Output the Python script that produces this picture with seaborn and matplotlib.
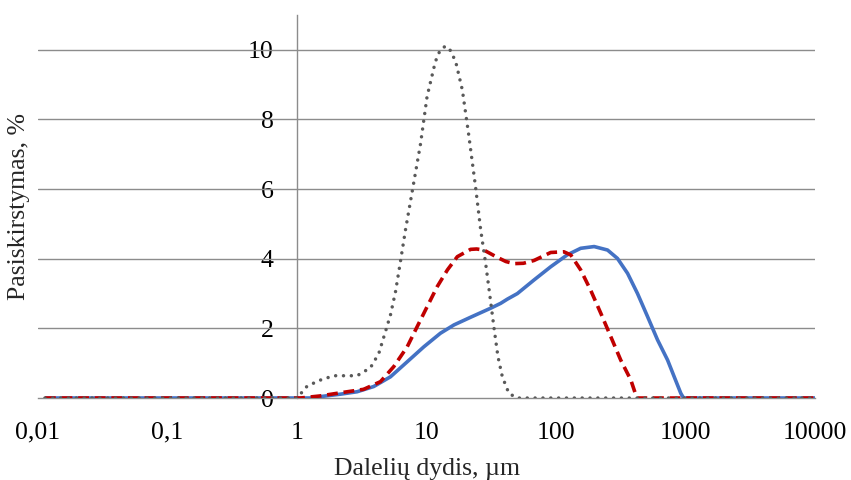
import matplotlib
matplotlib.use("Agg")
import matplotlib.pyplot as plt
import seaborn as sns
from matplotlib.ticker import FixedLocator, NullLocator

sns.set_style("white")
plt.rcParams["font.family"] = ["Liberation Serif", "DejaVu Serif"]
plt.rcParams["font.size"] = 18.5

# Particle size distributions (size in µm, share in %)
size_blue = [0.0113, 1.0, 1.27, 1.51, 2.16, 2.91, 3.91, 5.27, 7.09, 9.53, 12.8,
             16.3, 21.9, 31.3, 37.4, 42.1, 50.3, 67.6, 91.0, 122, 155, 197,
             250, 298, 357, 426, 509, 608, 727, 818, 921, 967, 1000, 10000]
share_blue = [0, 0, 0, 0.04, 0.11, 0.18, 0.33, 0.61, 1.04, 1.47, 1.86,
              2.10, 2.32, 2.58, 2.72, 2.84, 3.0, 3.39, 3.77, 4.11, 4.30, 4.35,
              4.25, 4.01, 3.58, 3.0, 2.34, 1.67, 1.09, 0.61, 0.13, 0, 0, 0]

size_red = [0.0113, 1.0, 1.06, 1.51, 2.16, 3.27, 4.41, 5.58, 7.09, 8.47, 10.1,
            12.1, 14.5, 17.3, 21.9, 24.4, 27.7, 35.2, 41.0, 47.3, 56.0, 67.6,
            91.0, 115, 130, 155, 185, 222, 265, 316, 378, 421, 10000]
share_red = [0, 0, 0, 0.06, 0.15, 0.25, 0.47, 0.90, 1.47, 2.05, 2.62,
             3.20, 3.68, 4.06, 4.27, 4.28, 4.25, 4.04, 3.92, 3.86, 3.87, 3.95,
             4.18, 4.20, 4.11, 3.68, 3.10, 2.43, 1.76, 1.09, 0.52, 0, 0]

size_grey = [0.0113, 1.0, 1.19, 1.47, 1.92, 2.51, 2.91, 3.69, 4.28, 4.82, 5.27,
             5.76, 6.29, 6.88, 7.75, 8.99, 10.1, 11.7, 12.7, 14.0, 15.3, 16.8,
             18.9, 21.1, 23.9, 26.2, 28.6, 30.7, 33.1, 35.6, 38.5, 43.3, 50.3,
             10000]
share_grey = [0, 0, 0.33, 0.50, 0.64, 0.64, 0.64, 0.87, 1.28, 1.91, 2.39,
              3.05, 3.92, 4.83, 5.93, 7.30, 8.66, 9.66, 9.98, 10.11, 9.98, 9.66,
              8.85, 7.60, 6.07, 4.83, 3.87, 3.0, 2.05, 1.19, 0.61, 0.13, 0,
              0]

x_ticks = [0.01, 0.1, 1, 10, 100, 1000, 10000]
x_tick_labels = ["0,01", "0,1", "1", "10", "100", "1000", "10000"]
y_ticks = [0, 2, 4, 6, 8, 10]
y_tick_labels = ["0", "2", "4", "6", "8", "10"]

fig = plt.figure(figsize=(8.51, 4.8), dpi=100)
ax = fig.add_axes([0.0447, 0.1708, 0.9130, 0.7979])

grid_col = "#8c8c8c"

sns.lineplot(x=size_blue, y=share_blue, ax=ax, color="#4472C4", lw=2.6,
             solid_capstyle="butt", solid_joinstyle="round", zorder=3)
sns.lineplot(x=size_red, y=share_red, ax=ax, color="#C00000", lw=2.6,
             linestyle=(0, (3.0, 1.6)), dash_capstyle="butt",
             dash_joinstyle="round", zorder=4)
sns.lineplot(x=size_grey, y=share_grey, ax=ax, color="#595959", lw=2.5,
             linestyle=(0, (0.01, 2.25)), dash_capstyle="round", zorder=5)

ax.set_xscale("log")
ax.set_xlim(0.01, 10000)
ax.set_ylim(0, 11)

ax.xaxis.set_major_locator(FixedLocator(x_ticks))
ax.xaxis.set_minor_locator(NullLocator())
ax.set_xticklabels(x_tick_labels)
ax.yaxis.set_major_locator(FixedLocator(y_ticks))
ax.set_yticklabels(y_tick_labels)

for y in y_ticks[1:]:
    ax.axhline(y, color=grid_col, lw=1.0, zorder=1)

for side in ("top", "right"):
    ax.spines[side].set_visible(False)
ax.spines["left"].set_position(("data", 1))
ax.spines["left"].set_color(grid_col)
ax.spines["left"].set_linewidth(1.0)
ax.spines["left"].set_zorder(1)
ax.spines["bottom"].set_color(grid_col)
ax.spines["bottom"].set_linewidth(1.0)

ax.tick_params(axis="x", direction="out", length=4, width=1.0, color=grid_col,
               pad=13, labelsize=18.5, labelcolor="black")
ax.tick_params(axis="y", length=0, pad=17, labelsize=18.5, labelcolor="black")

ax.set_xlabel("Dalelių dydis, µm", fontsize=18.5, labelpad=10)
ax.set_ylabel("Pasiskirstymas, %", fontsize=18.5)
ax.yaxis.set_label_coords(-0.010, 0.5)

fig.savefig("out.png", dpi=100)
